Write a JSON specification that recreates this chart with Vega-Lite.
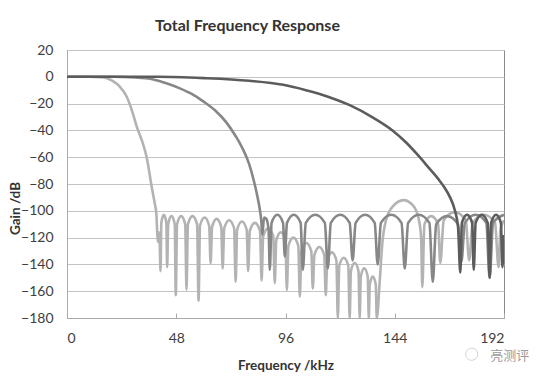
{
"$schema": "https://vega.github.io/schema/vega-lite/v6.json",
"width": 437, "height": 268,
"autosize": "none",
"padding": {"left": 67, "top": 50, "right": 42, "bottom": 60},
"background": "white",
"title": {"text": "Total Frequency Response", "font": "Lato", "fontSize": 16, "fontWeight": "bold", "color": "#333333", "dx": -38, "baseline": "alphabetic", "offset": -4},
"config": {"view": {"stroke": "#8a8a8a", "strokeWidth": 1}, "font": "Lato"},
"layer": [
{
"data": {"values": [
{"s":"A","f":0,"g":0},{"s":"A","f":10,"g":0},{"s":"A","f":14,"g":-0.3},{"s":"A","f":17.4,"g":-1},{"s":"A","f":20,"g":-3},{"s":"A","f":23,"g":-7},{"s":"A","f":26.2,"g":-14.7},{"s":"A","f":28.5,"g":-25},{"s":"A","f":30.6,"g":-37},{"s":"A","f":33,"g":-48},{"s":"A","f":35,"g":-60},{"s":"A","f":37.2,"g":-82},{"s":"A","f":38.5,"g":-94},{"s":"A","f":39.3,"g":-103},{"s":"A","f":39.6,"g":-115},{"s":"A","f":39.9,"g":-123},{"s":"A","f":40.3,"g":-116},{"s":"A","f":40.7,"g":-122},
{"s":"A","f":41.1,"g":-145},{"s":"A","f":41.45,"g":-109},{"s":"A","f":42.55,"g":-103},{"s":"A","f":43.65,"g":-109},
{"s":"A","f":44.0,"g":-142},{"s":"A","f":44.46,"g":-110},{"s":"A","f":45.9,"g":-104},{"s":"A","f":47.34,"g":-110},
{"s":"A","f":47.8,"g":-163},{"s":"A","f":48.36,"g":-110},{"s":"A","f":50.15,"g":-104},{"s":"A","f":51.94,"g":-110},
{"s":"A","f":52.5,"g":-159},{"s":"A","f":53.14,"g":-110},{"s":"A","f":55.15,"g":-104},{"s":"A","f":57.16,"g":-110},
{"s":"A","f":57.8,"g":-167},{"s":"A","f":58.44,"g":-111},{"s":"A","f":60.45,"g":-105},{"s":"A","f":62.46,"g":-111},
{"s":"A","f":63.1,"g":-139},{"s":"A","f":63.74,"g":-112},{"s":"A","f":65.75,"g":-106},{"s":"A","f":67.76,"g":-112},
{"s":"A","f":68.4,"g":-143},{"s":"A","f":69.08,"g":-113},{"s":"A","f":71.25,"g":-107},{"s":"A","f":73.42,"g":-113},
{"s":"A","f":74.1,"g":-153},{"s":"A","f":74.76,"g":-114},{"s":"A","f":76.85,"g":-108},{"s":"A","f":78.94,"g":-114},
{"s":"A","f":79.6,"g":-145},{"s":"A","f":80.31,"g":-115},{"s":"A","f":82.55,"g":-109},{"s":"A","f":84.79,"g":-115},
{"s":"A","f":85.5,"g":-152},{"s":"A","f":86.2,"g":-119},{"s":"A","f":88.4,"g":-113},{"s":"A","f":90.6,"g":-119},
{"s":"A","f":91.3,"g":-154},{"s":"A","f":91.94,"g":-122},{"s":"A","f":93.95,"g":-116},{"s":"A","f":95.96,"g":-122},
{"s":"A","f":96.6,"g":-159},{"s":"A","f":97.28,"g":-126},{"s":"A","f":99.45,"g":-120},{"s":"A","f":101.62,"g":-126},
{"s":"A","f":102.3,"g":-164},{"s":"A","f":102.98,"g":-130},{"s":"A","f":105.15,"g":-124},{"s":"A","f":107.32,"g":-130},
{"s":"A","f":108.0,"g":-158},{"s":"A","f":108.68,"g":-133},{"s":"A","f":110.85,"g":-127},{"s":"A","f":113.02,"g":-133},
{"s":"A","f":113.7,"g":-163},{"s":"A","f":114.34,"g":-137},{"s":"A","f":116.35,"g":-131},{"s":"A","f":118.36,"g":-137},
{"s":"A","f":119.0,"g":-180},{"s":"A","f":119.62,"g":-141},{"s":"A","f":121.6,"g":-135},{"s":"A","f":123.58,"g":-141},
{"s":"A","f":124.2,"g":-180},{"s":"A","f":124.73,"g":-145},{"s":"A","f":126.4,"g":-139},{"s":"A","f":128.07,"g":-145},
{"s":"A","f":128.6,"g":-180},{"s":"A","f":129.08,"g":-149},{"s":"A","f":130.6,"g":-143},{"s":"A","f":132.12,"g":-149},
{"s":"A","f":132.6,"g":-180},{"s":"A","f":133.02,"g":-155},{"s":"A","f":134.35,"g":-149},{"s":"A","f":135.68,"g":-155},
{"s":"A","f":136.1,"g":-180},{"s":"A","f":137.5,"g":-150},{"s":"A","f":138.5,"g":-125},{"s":"A","f":140,"g":-108},{"s":"A","f":143,"g":-97},{"s":"A","f":147.9,"g":-92},{"s":"A","f":152,"g":-96},{"s":"A","f":154.5,"g":-106},{"s":"A","f":155.6,"g":-120},
{"s":"A","f":156.1,"g":-157},{"s":"A","f":157.05,"g":-110},{"s":"A","f":160.05,"g":-104},{"s":"A","f":163.05,"g":-110},
{"s":"A","f":164.0,"g":-139},{"s":"A","f":165.52,"g":-107},{"s":"A","f":170.35,"g":-101},{"s":"A","f":175.18,"g":-107},
{"s":"A","f":176.7,"g":-137},{"s":"A","f":178.25,"g":-109},{"s":"A","f":183.15,"g":-103},{"s":"A","f":188.05,"g":-109},
{"s":"A","f":189.6,"g":-142},{"s":"A","f":190.4,"g":-115},{"s":"A","f":192,"g":-107},

{"s":"B","f":0,"g":0},{"s":"B","f":20,"g":0},{"s":"B","f":30,"g":-0.5},{"s":"B","f":38,"g":-2},{"s":"B","f":44,"g":-5},{"s":"B","f":49.6,"g":-8.6},{"s":"B","f":55,"g":-13},{"s":"B","f":60,"g":-18.5},{"s":"B","f":65,"g":-25},{"s":"B","f":70,"g":-34},{"s":"B","f":74,"g":-44},{"s":"B","f":77,"g":-53},{"s":"B","f":80,"g":-65},{"s":"B","f":82,"g":-77},{"s":"B","f":83.5,"g":-88},{"s":"B","f":84.8,"g":-100},{"s":"B","f":85.4,"g":-108},{"s":"B","f":85.8,"g":-118},{"s":"B","f":86.6,"g":-105},{"s":"B","f":87.6,"g":-106},{"s":"B","f":88.6,"g":-115},
{"s":"B","f":89.1,"g":-144},{"s":"B","f":89.89,"g":-109},{"s":"B","f":92.4,"g":-103},{"s":"B","f":94.91,"g":-109},
{"s":"B","f":95.7,"g":-134},{"s":"B","f":96.65,"g":-109},{"s":"B","f":99.65,"g":-103},{"s":"B","f":102.65,"g":-109},
{"s":"B","f":103.6,"g":-144},{"s":"B","f":104.92,"g":-109},{"s":"B","f":109.1,"g":-103},{"s":"B","f":113.28,"g":-109},
{"s":"B","f":114.6,"g":-143},{"s":"B","f":115.91,"g":-109},{"s":"B","f":120.05,"g":-103},{"s":"B","f":124.19,"g":-109},
{"s":"B","f":125.5,"g":-137},{"s":"B","f":126.82,"g":-109},{"s":"B","f":131,"g":-103},{"s":"B","f":135.18,"g":-109},
{"s":"B","f":136.5,"g":-140},{"s":"B","f":137.93,"g":-109},{"s":"B","f":142.45,"g":-103},{"s":"B","f":146.97,"g":-109},
{"s":"B","f":148.4,"g":-143},{"s":"B","f":149.88,"g":-109},{"s":"B","f":154.55,"g":-103},{"s":"B","f":159.22,"g":-109},
{"s":"B","f":160.7,"g":-153},{"s":"B","f":162.21,"g":-110},{"s":"B","f":167,"g":-104},{"s":"B","f":171.79,"g":-110},
{"s":"B","f":173.3,"g":-138},{"s":"B","f":174.79,"g":-109},{"s":"B","f":179.5,"g":-103},{"s":"B","f":184.21,"g":-109},
{"s":"B","f":185.7,"g":-150},{"s":"B","f":187.2,"g":-109},{"s":"B","f":192,"g":-103},

{"s":"C","f":0,"g":0},{"s":"C","f":40,"g":0},{"s":"C","f":60,"g":-1},{"s":"C","f":80,"g":-3},{"s":"C","f":95,"g":-6},{"s":"C","f":105,"g":-10},{"s":"C","f":115,"g":-15},{"s":"C","f":124,"g":-21},{"s":"C","f":135,"g":-31},{"s":"C","f":143,"g":-40},{"s":"C","f":149,"g":-49},{"s":"C","f":155,"g":-60},{"s":"C","f":159,"g":-68},{"s":"C","f":163,"g":-76},{"s":"C","f":166,"g":-83},{"s":"C","f":168.3,"g":-90},{"s":"C","f":170.3,"g":-99},{"s":"C","f":171.8,"g":-112},
{"s":"C","f":172.8,"g":-146},{"s":"C","f":173.5,"g":-109},{"s":"C","f":175.75,"g":-103},{"s":"C","f":178.0,"g":-109},
{"s":"C","f":178.7,"g":-144},{"s":"C","f":179.54,"g":-109},{"s":"C","f":182.2,"g":-103},{"s":"C","f":184.86,"g":-109},
{"s":"C","f":185.7,"g":-150},{"s":"C","f":186.37,"g":-109},{"s":"C","f":188.5,"g":-103},{"s":"C","f":190.63,"g":-109},
{"s":"C","f":191.3,"g":-142},{"s":"C","f":192,"g":-118}
]},
"mark": {"type": "line", "interpolate": "monotone", "strokeWidth": 2.6, "clip": true},
"encoding": {
"x": {"field": "f", "type": "quantitative", "scale": {"domain": [0, 192], "nice": false, "zero": false},
 "axis": {"values": [0, 48, 96, 144, 192], "tickCount": 20, "grid": false, "tickSize": -5, "tickColor": "#aaaaaa", "domainColor": "#aaaaaa", "labelFont": "Lato", "labelFontSize": 14, "labelColor": "#404040", "labelPadding": 18, "labelOverlap": false, "title": "Frequency /kHz", "titleFont": "Lato", "titleFontSize": 13.5, "titleFontWeight": "bold", "titleColor": "#333333", "titlePadding": 13}},
"y": {"field": "g", "type": "quantitative", "scale": {"domain": [-180, 20], "nice": false, "zero": false},
 "axis": {"values": [-180, -160, -140, -120, -100, -80, -60, -40, -20, 0, 20], "tickCount": 30, "grid": true, "gridColor": "#c4c4c4", "ticks": false, "domainColor": "#aaaaaa", "labelFont": "Lato", "labelFontSize": 14, "labelColor": "#404040", "labelPadding": 14, "labelOverlap": false, "title": "Gain /dB", "titleFont": "Lato", "titleFontSize": 13.5, "titleFontWeight": "bold", "titleColor": "#333333", "titleX": -52, "titleY": 158, "titleAngle": -90, "titleAlign": "center", "titleBaseline": "middle"}},
"color": {"field": "s", "type": "nominal", "scale": {"domain": ["A", "B", "C"], "range": ["#b3b3b3", "#878787", "#5c5c5c"]}, "legend": null}
}
},
{
"data": {"values": [{"t": "亮测评", "f": 194.5, "g": -208}]},
"mark": {"type": "text", "color": "#9a9a9a", "fontSize": 13, "font": "Noto Sans CJK SC", "clip": false},
"encoding": {
"x": {"field": "f", "type": "quantitative"},
"y": {"field": "g", "type": "quantitative"},
"text": {"field": "t"}
}
},
{
"data": {"values": [{"f": 177.8, "g": -207}]},
"mark": {"type": "point", "shape": "circle", "filled": false, "stroke": "#c2c2c2", "strokeWidth": 1, "size": 150, "clip": false},
"encoding": {
"x": {"field": "f", "type": "quantitative"},
"y": {"field": "g", "type": "quantitative"}
}
}
]
}
